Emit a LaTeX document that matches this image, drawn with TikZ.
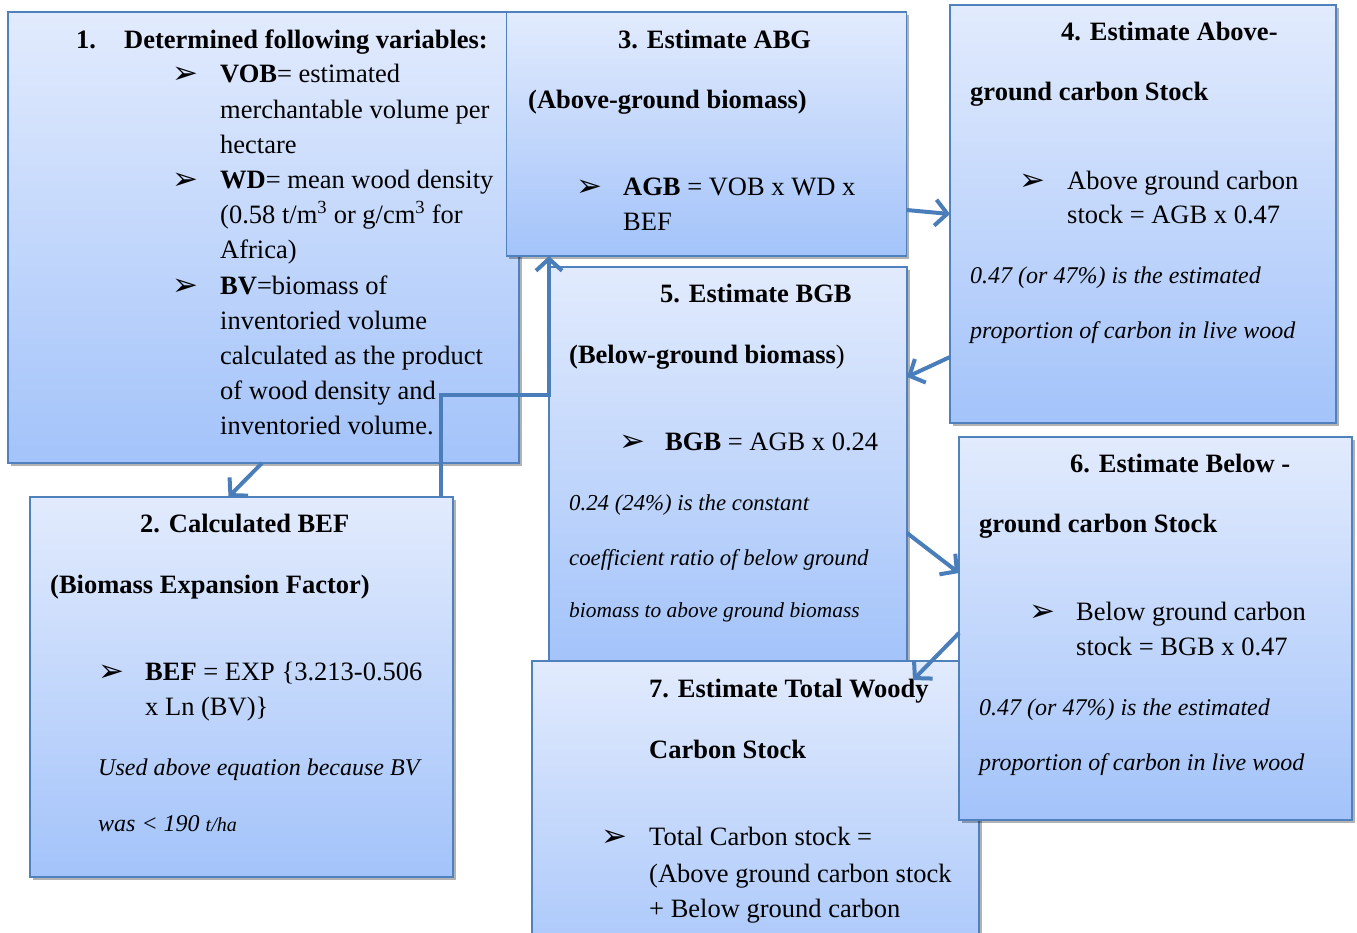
\documentclass[tikz,border=0pt]{standalone}
\usepackage{fontspec}
\setmainfont{Liberation Serif}
\newfontfamily\djv{DejaVu Sans}
\usetikzlibrary{arrows.meta,shadows}
\definecolor{bd}{RGB}{79,129,189}
\definecolor{ftop}{RGB}{226,235,253}
\definecolor{fbot}{RGB}{163,195,250}
\definecolor{ac}{RGB}{74,126,187}
\begin{document}
\begin{tikzpicture}[x=1pt,y=-1pt,
  box/.style={rectangle,draw=bd,line width=1.6pt,top color=ftop,bottom color=fbot,inner sep=0pt,outer sep=0pt,
    drop shadow={shadow xshift=2.5pt,shadow yshift=-3pt,opacity=0.3,fill=black}},
  tx/.style={anchor=base west,inner sep=0pt,font=\fontsize{26.5}{30}\selectfont},
  bf/.style={anchor=base west,inner sep=0pt,font=\fontsize{26.5}{30}\selectfont\bfseries},
  it/.style={anchor=base west,inner sep=0pt,font=\fontsize{24}{28}\selectfont\itshape},
  its/.style={anchor=base west,inner sep=0pt,font=\fontsize{22.8}{28}\selectfont\itshape},
  bul/.style={anchor=base west,inner sep=0pt,font=\djv\fontsize{31}{31}\selectfont},
  arr/.style={draw=ac,line width=4pt,-{Straight Barb[length=12pt,width=26pt]}}]
\path[use as bounding box] (0,0) rectangle (1357,932);
\clip (0,0) rectangle (1357,932);
% boxes
\node[box,minimum width=511pt,minimum height=451pt] (b1) at (263.5,237.5) {};
\node[box,minimum width=423pt,minimum height=380pt] (b2) at (241.5,687) {};
\node[box,minimum width=400pt,minimum height=244pt] (b3) at (706.5,134) {};
\node[box,minimum width=386pt,minimum height=418pt] (b4) at (1143,214) {};
\node[box,minimum width=358pt,minimum height=395pt] (b5) at (728,464.5) {};
\node[box,minimum width=447pt,minimum height=338pt] (b7) at (755.5,830) {};
\node[box,minimum width=393pt,minimum height=383pt] (b6) at (1155.5,628.5) {};
% box 1 text
\node[bf] (t1n) at (76,48) {1.};
\node[bf] (t1h) at (124,48) {Determined following variables:};
\node[bul] (t1b1) at (172,83) {➢};
\node[tx] (t1a) at (220,82) {\textbf{VOB}= estimated};
\node[tx] (t1c) at (220,118) {merchantable volume per};
\node[tx] (t1d) at (220,153) {hectare};
\node[bul] (t1b2) at (172,189) {➢};
\node[tx] (t1e) at (220,188) {\textbf{WD}= mean wood density};
\node[tx] (t1f) at (220,223) {(0.58 t/m\textsuperscript{3} or g/cm\textsuperscript{3} for};
\node[tx] (t1g) at (220,258) {Africa)};
\node[bul] (t1b3) at (172,295) {➢};
\node[tx] (t1i) at (220,294) {\textbf{BV}=biomass of};
\node[tx] (t1j) at (220,329) {inventoried volume};
\node[tx] (t1k) at (220,364) {calculated as the product};
\node[tx] (t1l) at (220,399) {of wood density and};
\node[tx] (t1m) at (220,434) {inventoried volume.};
% box 2 text
\node[bf] (t2a) at (140,532) {2. Calculated BEF};
\node[bf] (t2b) at (50,593) {(Biomass Expansion Factor)};
\node[bul] (t2bu) at (98,681) {➢};
\node[tx] (t2c) at (145,680) {\textbf{BEF} = EXP \{3.213-0.506};
\node[tx] (t2d) at (145,715) {x Ln (BV)\}};
\node[it] (t2e) at (98,775) {Used above equation because BV};
\node[it] (t2f) at (98,831) {was < 190 {\fontsize{20}{20}\selectfont t/ha}};
% box 3 text
\node[bf] (t3a) at (618,48) {3. Estimate ABG};
\node[bf] (t3b) at (528,108) {(Above-ground biomass)};
\node[bul] (t3bu) at (576,196) {➢};
\node[tx] (t3c) at (623,195) {\textbf{AGB} = VOB x WD x};
\node[tx] (t3d) at (623,230) {BEF};
% box 4 text
\node[bf] (t4a) at (1061,40) {4. Estimate Above-};
\node[bf] (t4b) at (970,100) {ground carbon Stock};
\node[bul] (t4bu) at (1019,190) {➢};
\node[tx] (t4c) at (1067,189) {Above ground carbon};
\node[tx] (t4d) at (1067,223) {stock = AGB x 0.47};
\node[it] (t4e) at (970,283) {0.47 (or 47\%) is the estimated};
\node[it] (t4f) at (970,338) {proportion of carbon in live wood};
% box 5 text
\node[bf] (t5a) at (660,302) {5. Estimate BGB};
\node[tx] (t5b) at (569,363) {\textbf{(Below-ground biomass})};
\node[bul] (t5bu) at (619,451) {➢};
\node[tx] (t5c) at (665,450) {\textbf{BGB} = AGB x 0.24};
\node[its] (t5d) at (569,510) {0.24 (24\%) is the constant};
\node[its] (t5e) at (569,565) {coefficient ratio of below ground};
\node[its,font=\fontsize{21.4}{28}\selectfont\itshape] (t5f) at (569,617) {biomass to above ground biomass};
% box 6 text
\node[bf] (t6a) at (1070,472) {6. Estimate Below -};
\node[bf] (t6b) at (979,532) {ground carbon Stock};
\node[bul] (t6bu) at (1029,621) {➢};
\node[tx] (t6c) at (1076,620) {Below ground carbon};
\node[tx] (t6d) at (1076,655) {stock = BGB x 0.47};
\node[it] (t6e) at (979,715) {0.47 (or 47\%) is the estimated};
\node[it] (t6f) at (979,770) {proportion of carbon in live wood};
% box 7 text
\node[bf] (t7a) at (649,697) {7. Estimate Total Woody};
\node[bf] (t7b) at (649,758) {Carbon Stock};
\node[bul] (t7bu) at (601,846) {➢};
\node[tx] (t7c) at (649,845) {Total Carbon stock =};
\node[tx] (t7d) at (649,882) {(Above ground carbon stock};
\node[tx] (t7e) at (649,917) {+ Below ground carbon};
% connectors
\draw[arr] ([xshift=-1.5pt]b1.south) -- ([xshift=-13pt]b2.north);
\draw[arr] ([xshift=199.5pt]b2.north) -- ++(0,-102) -| ([xshift=-157.5pt]b3.south);
\draw[arr] ([yshift=-76pt]b3.east) -- (b4.west);
\draw[arr] ([yshift=-143pt]b4.west) -- ([yshift=87.5pt]b5.east);
\draw[arr] ([yshift=-68.5pt]b5.east) -- ([yshift=55.5pt]b6.west);
\draw[arr] ([yshift=-4.5pt]b6.west) -- ([shift={(157.5pt,-19pt)}]b7.north);
\end{tikzpicture}
\end{document}
